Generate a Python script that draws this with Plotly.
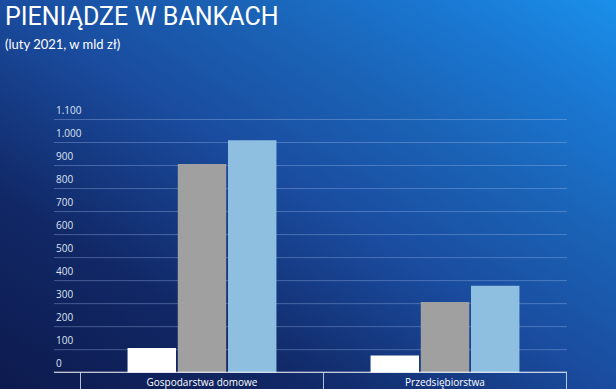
import base64
import plotly.graph_objects as go

# ---- data ----
categories = ["Gospodarstwa domowe", "Przedsiębiorstwa"]
series_names = ["Seria 1", "Seria 2", "Seria 3"]
series_a = [107, 75]
series_b = [907, 307]
series_c = [1010, 378]
y_ticks = [0, 100, 200, 300, 400, 500, 600, 700, 800, 900, 1000, 1100]
y_tick_labels = ["0", "100", "200", "300", "400", "500", "600", "700", "800", "900", "1.000", "1.100"]
title_text = "PIENIĄDZE W BANKACH"
subtitle_text = "(luty 2021, w mld zł)"

W, H = 616, 389
colors = ["#ffffff", "#a0a0a0", "#8ebfe1"]

# background gradient as svg
svg = f'''<svg xmlns="http://www.w3.org/2000/svg" width="{W}" height="{H}" viewBox="0 0 {W} {H}" preserveAspectRatio="none">
<defs><linearGradient id="g" x1="0" y1="1" x2="1" y2="0">
<stop offset="0" stop-color="#0d1a4e"/>
<stop offset="0.25" stop-color="#112866"/>
<stop offset="0.5" stop-color="#1a4c9f"/>
<stop offset="0.68" stop-color="#1a62b5"/>
<stop offset="0.85" stop-color="#1a78d2"/>
<stop offset="1" stop-color="#1a90ea"/>
</linearGradient></defs>
<rect width="{W}" height="{H}" fill="url(#g)"/></svg>'''
src = "data:image/svg+xml;base64," + base64.b64encode(svg.encode()).decode()

# pixel geometry
x_left_px, x_right_px, grid_left_px = 80, 567, 54
y0_px, y1100_px = 372.7, 119.5
ymax = 1150
frac_bottom = (H - y0_px) / H
frac_1100 = (H - y1100_px) / H
frac_top = frac_bottom + (frac_1100 - frac_bottom) * ymax / 1100

fig = go.Figure()
for name, vals, c in zip(series_names, [series_a, series_b, series_c], colors):
    fig.add_trace(go.Bar(x=categories, y=vals, name=name, marker=dict(color=c, line=dict(width=0))))

shapes = []
annotations = []
for v, lab in zip(y_ticks, y_tick_labels):
    if v > 0:
        shapes.append(dict(type="line", xref="paper", yref="y", x0=grid_left_px / W, x1=x_right_px / W,
                           y0=v, y1=v, line=dict(color="rgba(170,195,240,0.35)", width=1), layer="below"))
    annotations.append(dict(xref="paper", yref="y", x=grid_left_px / W, y=v, text=lab, showarrow=False,
                            xanchor="left", yanchor="bottom", yshift=1,
                            font=dict(family="Open Sans", size=10, color="#dde4f2")))
# zero line
shapes.append(dict(type="line", xref="paper", yref="y", x0=grid_left_px / W, x1=x_right_px / W,
                   y0=0, y1=0, line=dict(color="#ffffff", width=2)))
# category separators
for xv in [-0.5, 0.5, 1.5]:
    shapes.append(dict(type="line", xref="x", yref="paper", x0=xv, x1=xv, y0=0, y1=frac_bottom,
                       line=dict(color="rgba(220,230,250,0.8)", width=1)))

annotations.append(dict(xref="paper", yref="paper", x=3 / W, y=1 - 0.5 / H, text=title_text, showarrow=False,
                        xanchor="left", yanchor="top",
                        font=dict(family="Roboto", size=25, color="#ffffff")))
annotations.append(dict(xref="paper", yref="paper", x=3 / W, y=1 - 34 / H, text=subtitle_text, showarrow=False,
                        xanchor="left", yanchor="top",
                        font=dict(family="Lato", size=13, color="#ffffff")))

fig.update_layout(
    width=W, height=H,
    margin=dict(l=0, r=0, t=0, b=0),
    paper_bgcolor="#0d1a4e", plot_bgcolor="rgba(0,0,0,0)",
    showlegend=False,
    barmode="group", bargap=0.38, bargroupgap=0.035,
    images=[dict(source=src, xref="paper", yref="paper", x=0, y=1, sizex=1, sizey=1,
                 sizing="stretch", layer="below", xanchor="left", yanchor="top")],
    shapes=shapes, annotations=annotations,
    xaxis=dict(domain=[x_left_px / W, x_right_px / W], showgrid=False, showline=False, ticks="",
               tickfont=dict(family="Open Sans", size=10, color="#ffffff"), ticklabelstandoff=2),
    yaxis=dict(domain=[frac_bottom, frac_top], range=[0, ymax], showgrid=False, zeroline=False,
               showticklabels=False, showline=False),
)
fig.write_html("out.html", config={"displayModeBar": False},
               post_script="document.body.style.margin='0';document.body.style.overflow='hidden';")
